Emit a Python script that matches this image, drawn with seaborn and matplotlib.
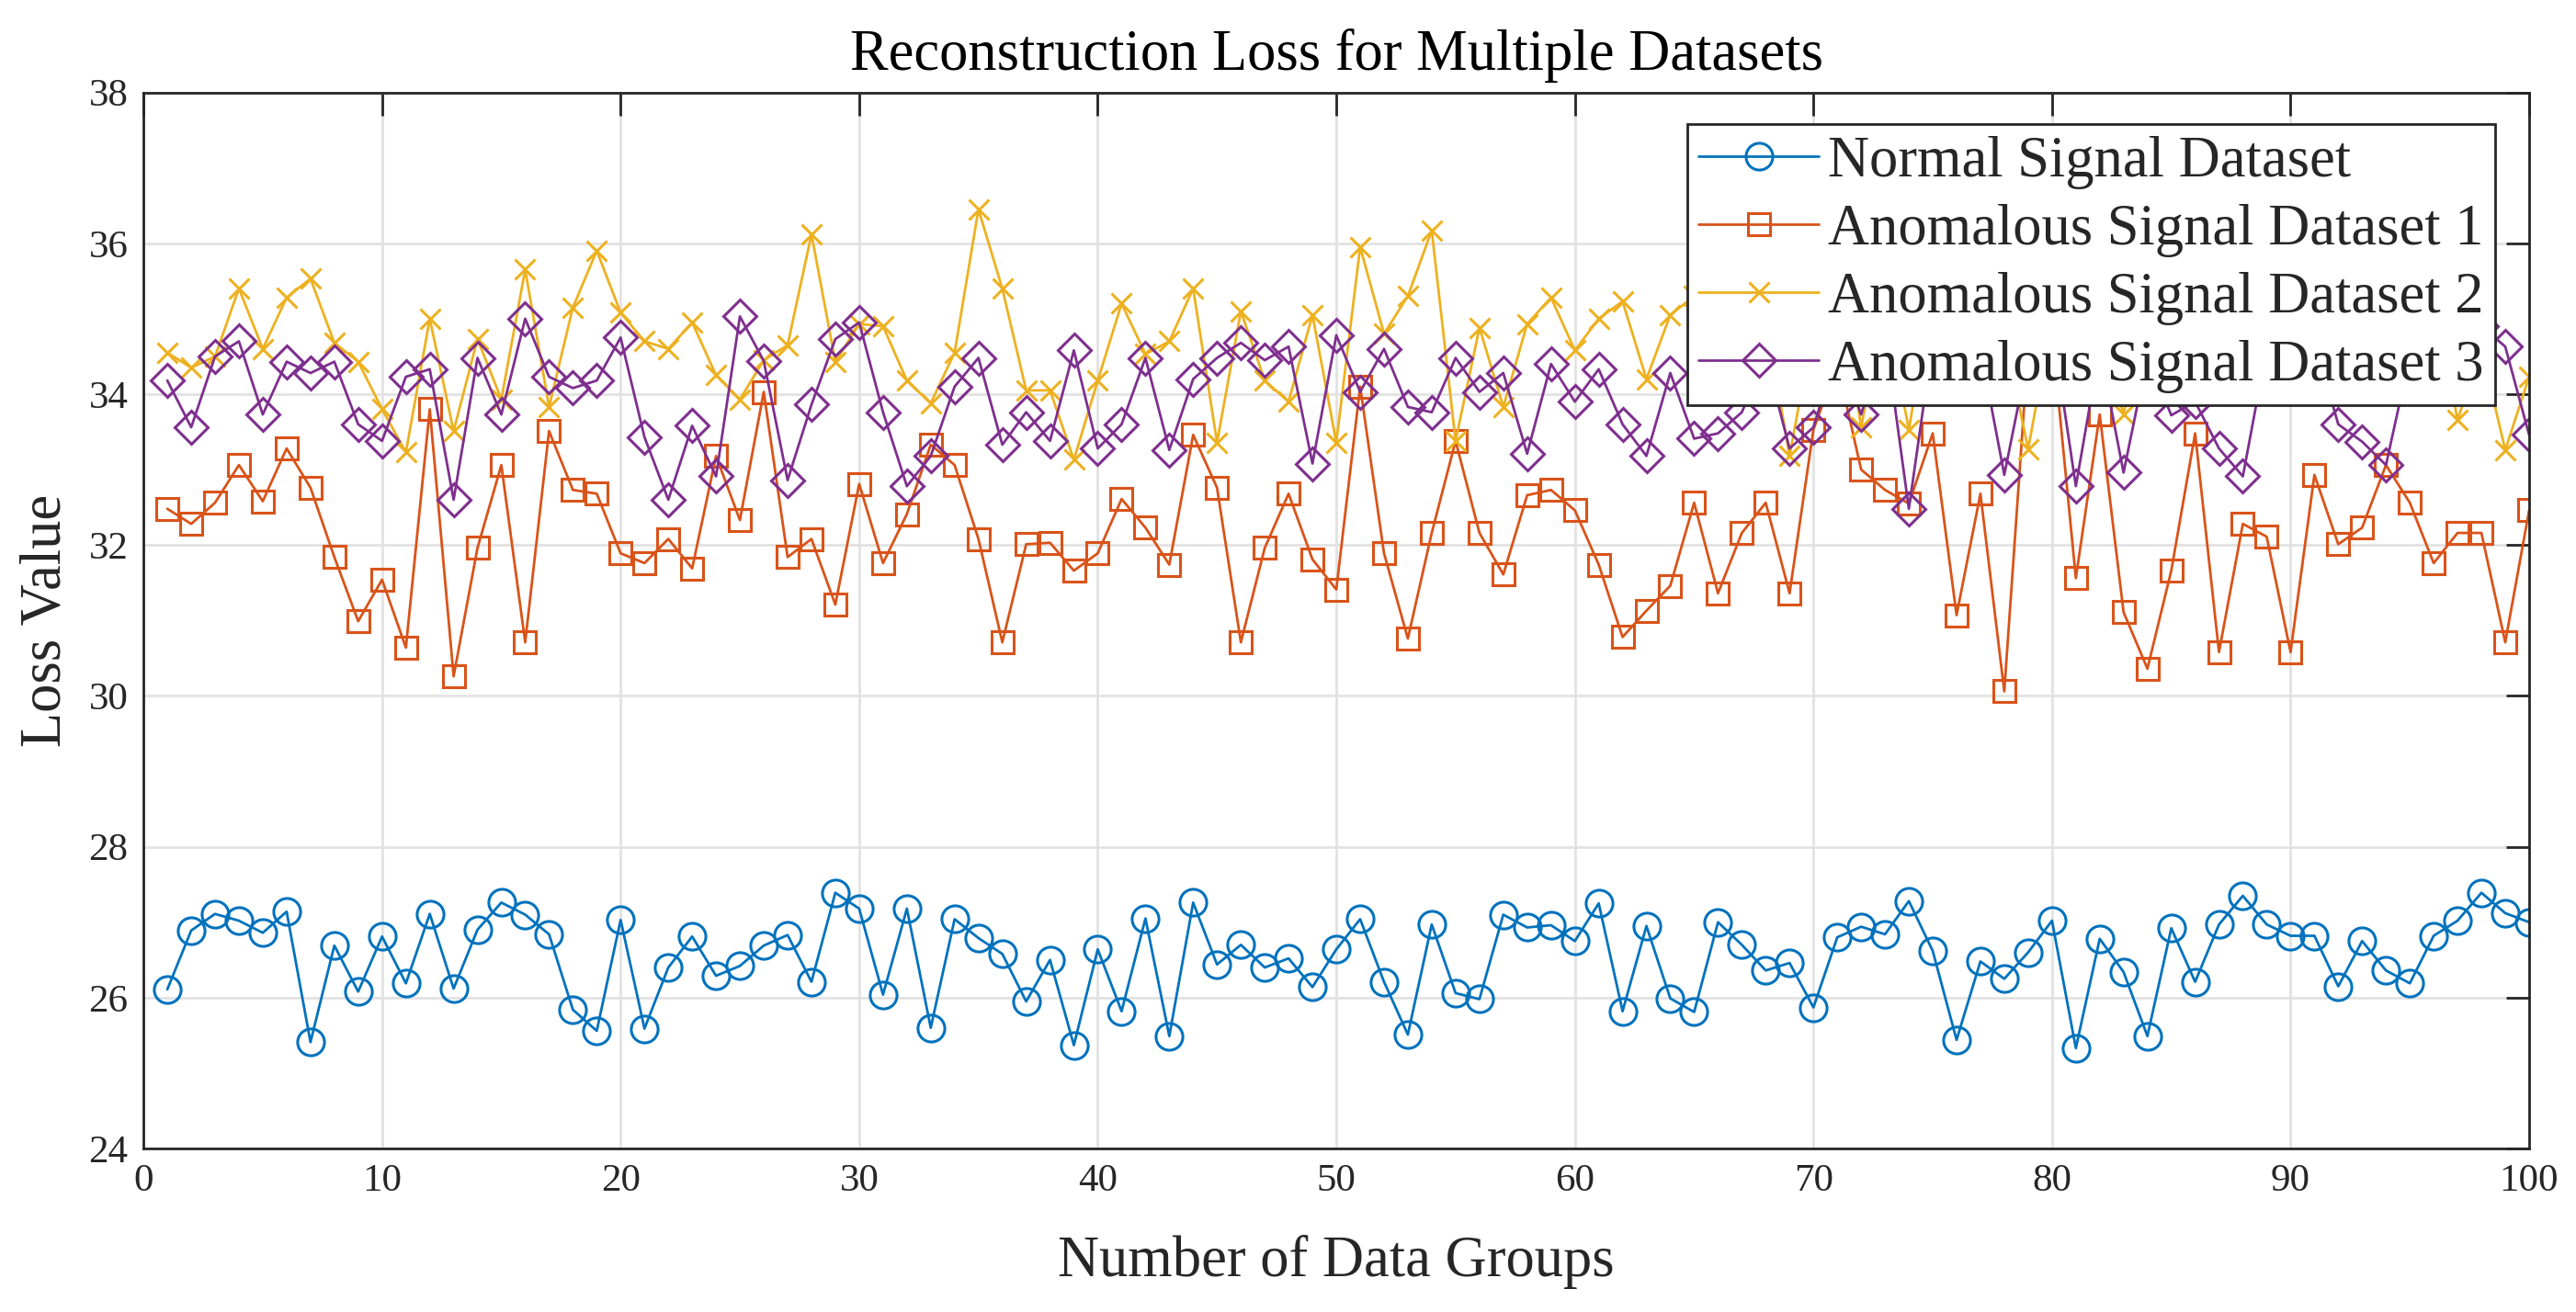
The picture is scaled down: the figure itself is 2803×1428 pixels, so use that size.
import numpy as np
import pandas as pd
import matplotlib
matplotlib.use("Agg")
import matplotlib.pyplot as plt
import seaborn as sns

groups = list(range(1, 101))

normal = [26.11, 26.89, 27.11, 27.02, 26.86, 27.14, 25.41, 26.69, 26.08, 26.81,
          26.19, 27.11, 26.12, 26.90, 27.26, 27.10, 26.84, 25.84, 25.56, 27.03,
          25.59, 26.40, 26.81, 26.29, 26.42, 26.69, 26.83, 26.21, 27.39, 27.18,
          26.04, 27.18, 25.60, 27.04, 26.79, 26.58, 25.95, 26.50, 25.37, 26.64,
          25.82, 27.05, 25.49, 27.26, 26.44, 26.70, 26.40, 26.52, 26.14, 26.64,
          27.04, 26.21, 25.51, 26.97, 26.06, 25.98, 27.10, 26.93, 26.96, 26.75,
          27.25, 25.82, 26.95, 25.99, 25.81, 27.00, 26.70, 26.36, 26.46, 25.87,
          26.80, 26.94, 26.84, 27.28, 26.62, 25.44, 26.48, 26.25, 26.60, 27.02,
          25.33, 26.78, 26.34, 25.49, 26.92, 26.21, 26.97, 27.35, 26.97, 26.82,
          26.82, 26.15, 26.75, 26.36, 26.19, 26.82, 27.02, 27.39, 27.12, 27.00]

anom1 = [32.48, 32.28, 32.56, 33.06, 32.58, 33.28, 32.76, 31.84, 30.99, 31.54,
         30.64, 33.80, 30.26, 31.96, 33.06, 30.71, 33.51, 32.73, 32.68, 31.89,
         31.76, 32.08, 31.69, 33.18, 32.33, 34.03, 31.84, 32.08, 31.21, 32.81,
         31.76, 32.41, 33.33, 33.06, 32.08, 30.71, 32.01, 32.03, 31.66, 31.89,
         32.61, 32.23, 31.74, 33.46, 32.76, 30.71, 31.96, 32.68, 31.81, 31.41,
         34.10, 31.89, 30.76, 32.16, 33.38, 32.16, 31.61, 32.66, 32.73, 32.46,
         31.74, 30.78, 31.13, 31.46, 32.56, 31.36, 32.16, 32.56, 31.36, 33.53,
         34.40, 33.00, 32.73, 32.55, 33.48, 31.07, 32.68, 30.06, 34.60, 34.80,
         31.56, 33.73, 31.11, 30.36, 31.66, 33.48, 30.58, 32.28, 32.11, 30.58,
         32.93, 32.01, 32.23, 33.06, 32.56, 31.76, 32.16, 32.16, 30.71, 32.46]

anom2 = [34.55, 34.35, 34.50, 35.40, 34.60, 35.28, 35.53, 34.68, 34.43, 33.80,
         33.23, 35.00, 33.51, 34.73, 33.93, 35.65, 33.83, 35.15, 35.90, 35.08,
         34.70, 34.60, 34.95, 34.25, 33.93, 34.45, 34.65, 36.12, 34.43, 34.93,
         34.90, 34.18, 33.88, 34.55, 36.45, 35.40, 34.05, 34.05, 33.13, 34.18,
         35.20, 34.53, 34.70, 35.40, 33.36, 35.10, 34.18, 33.90, 35.05, 33.36,
         35.95, 34.80, 35.30, 36.17, 33.38, 34.88, 33.83, 34.93, 35.28, 34.58,
         35.00, 35.23, 34.20, 35.05, 35.30, 34.80, 35.50, 35.00, 33.18, 34.90,
         35.60, 33.56, 35.20, 33.53, 35.40, 34.90, 35.30, 34.80, 33.27, 35.00,
         35.50, 34.90, 33.73, 35.20, 34.70, 35.60, 34.80, 35.30, 34.90, 35.20,
         34.60, 35.40, 34.80, 35.10, 34.50, 35.30, 33.66, 34.60, 33.26, 34.23]

anom3 = [34.18, 33.56, 34.50, 34.70, 33.73, 34.43, 34.28, 34.43, 33.60, 33.38,
         34.23, 34.33, 32.60, 34.48, 33.73, 35.00, 34.23, 34.08, 34.18, 34.75,
         33.43, 32.60, 33.58, 32.91, 35.03, 34.44, 32.86, 33.86, 34.73, 34.95,
         33.76, 32.78, 33.18, 34.10, 34.48, 33.33, 33.76, 33.38, 34.58, 33.28,
         33.60, 34.48, 33.26, 34.20, 34.48, 34.68, 34.45, 34.63, 33.08, 34.78,
         34.03, 34.60, 33.83, 33.76, 34.48, 34.03, 34.28, 33.21, 34.40, 33.90,
         34.33, 33.60, 33.18, 34.28, 33.41, 33.48, 33.76, 34.50, 33.28, 33.56,
         34.60, 33.73, 34.80, 32.48, 34.70, 34.40, 34.60, 32.93, 34.50, 34.90,
         32.78, 34.60, 32.96, 34.50, 33.72, 33.90, 33.28, 32.91, 34.60, 34.40,
         34.70, 33.60, 33.37, 33.06, 34.50, 34.80, 34.40, 34.90, 34.63, 33.46]

labels = ["Normal Signal Dataset", "Anomalous Signal Dataset 1",
          "Anomalous Signal Dataset 2", "Anomalous Signal Dataset 3"]
colors = ["#0072BD", "#D95319", "#EDB120", "#7E2F8E"]
markers = ["o", "s", "x", "D"]
msizes = [10.5, 8.5, 8.0, 9.0]
series = [normal, anom1, anom2, anom3]

sns.set_style("white")
plt.rcParams["font.family"] = ["Liberation Serif", "DejaVu Serif"]
plt.rcParams["mathtext.fontset"] = "stix"

fig = plt.figure(figsize=(2803 / 200, 1428 / 200), dpi=200)
ax = fig.add_axes([0.0557, 0.1246, 0.9261, 0.8050])

for vals, lab, col, mk, ms in zip(series, labels, colors, markers, msizes):
    df = pd.DataFrame({"group": groups, "loss": vals})
    sns.lineplot(data=df, x="group", y="loss", ax=ax, color=col, label=lab,
                 marker=mk, markersize=ms, markerfacecolor="none",
                 markeredgecolor=col, markeredgewidth=1.1, linewidth=1.0,
                 estimator=None, sort=False)

ax.set_xlim(0, 100)
ax.set_ylim(24, 38)
ax.set_xticks(np.arange(0, 101, 10))
ax.set_yticks(np.arange(24, 39, 2))
ax.grid(True, color="#e2e2e2", linewidth=1.0)
ax.set_axisbelow(True)
for sp in ax.spines.values():
    sp.set_visible(True)
    sp.set_color("#262626")
    sp.set_linewidth(1.0)
ax.tick_params(axis="both", which="both", direction="in", length=9, width=1.0,
               top=True, right=True, labelsize=15.5, colors="#262626",
               labelcolor="#262626", pad=6)

ax.set_title("Reconstruction Loss for Multiple Datasets", fontsize=22.5, pad=9,
             color="#000000")
ax.set_xlabel("Number of Data Groups", fontsize=22.5, labelpad=14)
ax.set_ylabel("Loss Value", fontsize=22.5, labelpad=6)

leg = ax.legend(loc="upper right", bbox_to_anchor=(0.9857, 0.970),
                borderaxespad=0, fontsize=22.5, frameon=True, fancybox=False,
                framealpha=1.0, edgecolor="#262626", handlelength=2.1,
                labelspacing=0.26, borderpad=0.2, handletextpad=0.15)
leg.get_frame().set_linewidth(1.0)

fig.savefig("out.png", dpi=200)
